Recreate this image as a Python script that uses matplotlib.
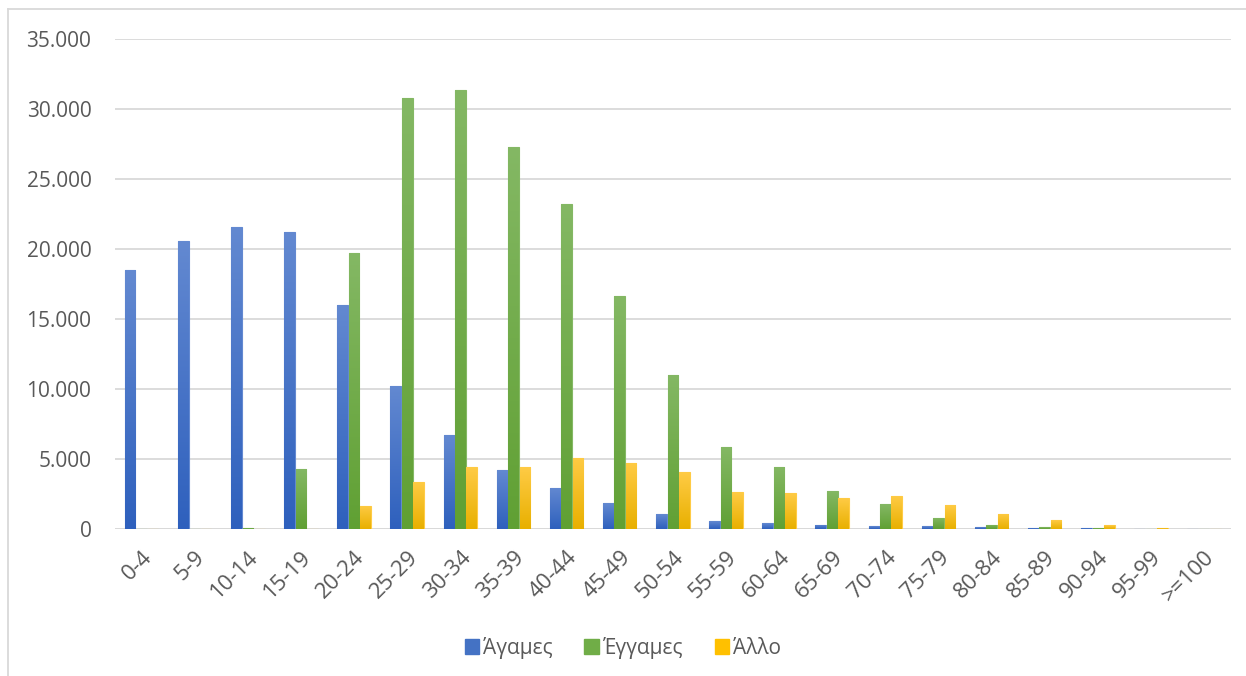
import numpy as np
import matplotlib.pyplot as plt
from matplotlib.colors import LinearSegmentedColormap
from matplotlib.patches import Patch
from matplotlib.lines import Line2D
from matplotlib.ticker import FuncFormatter

plt.rcParams['font.family'] = ['Open Sans', 'DejaVu Sans']

ilikies = ['0-4', '5-9', '10-14', '15-19', '20-24', '25-29', '30-34', '35-39',
           '40-44', '45-49', '50-54', '55-59', '60-64', '65-69', '70-74', '75-79',
           '80-84', '85-89', '90-94', '95-99', '>=100']
agames = [18500, 20570, 21550, 21240, 16020, 10240, 6710, 4180, 2940, 1820, 1040,
          570, 400, 290, 210, 190, 130, 60, 40, 30, 25]
eggames = [0, 0, 60, 4310, 19710, 30790, 31340, 27270, 23200, 16630, 11010,
           5830, 4430, 2710, 1760, 800, 300, 130, 50, 30, 25]
allo = [0, 0, 30, 20, 1670, 3360, 4400, 4410, 5090, 4730, 4040,
        2640, 2550, 2190, 2330, 1700, 1090, 610, 250, 60, 30]

seires = [
    ('Άγαμες', agames, '#6389D1', '#2E60BD', '#4472C4'),
    ('Έγγαμες', eggames, '#84B864', '#60A033', '#70AD47'),
    ('Άλλο', allo, '#FFCB45', '#E8B000', '#FFC000'),
]

fig = plt.figure(figsize=(12.46, 6.76), dpi=100)
ax = fig.add_axes([0.0923, 0.2175, 0.8954, 0.7248])

x = np.arange(len(ilikies))
platos = 0.2
metatopisi = 0.215
grad = np.linspace(1, 0, 256).reshape(-1, 1)

handles = []
for i, (onoma, times, panw, katw, xrwma) in enumerate(seires):
    cmap = LinearSegmentedColormap.from_list(onoma, [katw, panw])
    bars = ax.bar(x + (i - 1) * metatopisi, times, width=platos, color=xrwma,
                  edgecolor=panw, linewidth=0.8, zorder=2)
    for b in bars:
        h = b.get_height()
        if h <= 0:
            continue
        im = ax.imshow(grad, cmap=cmap, aspect='auto', zorder=2.5,
                       extent=[b.get_x(), b.get_x() + b.get_width(), 0, h])
        im.set_clip_path(b)
    handles.append(Patch(facecolor=xrwma, edgecolor=xrwma))

ax.set_xlim(-0.5, len(ilikies) - 0.5)
ax.set_ylim(0, 35000)
ax.set_yticks(np.arange(0, 35001, 5000))
ax.yaxis.set_major_formatter(FuncFormatter(lambda v, p: f'{int(v):,}'.replace(',', '.')))
ax.grid(axis='y', color='#D9D9D9', linewidth=1.3, zorder=0)
ax.set_axisbelow(True)
for s in ax.spines.values():
    s.set_visible(False)
ax.axhline(0, color='#D9D9D9', linewidth=1.3, zorder=1)

ax.set_xticks(x)
ax.set_xticklabels(ilikies, rotation=45, ha='right', rotation_mode='anchor')
ax.tick_params(axis='both', length=0, labelcolor='#595959')
ax.tick_params(axis='y', pad=17, labelsize=15)
ax.tick_params(axis='x', pad=13, labelsize=16)

fig.legend(handles, [s[0] for s in seires], loc='center', bbox_to_anchor=(0.5, 0.042),
           ncol=3, frameon=False, fontsize=15, labelcolor='#595959',
           handlelength=0.7, handleheight=0.7, handletextpad=0.2, columnspacing=1.5)

# plaisio gyro apo to grafima
fig.add_artist(Line2D([0.0068, 0.0068], [0, 0.986], color='#D9D9D9', linewidth=1.3))
fig.add_artist(Line2D([0.0068, 1], [0.986, 0.986], color='#D9D9D9', linewidth=1.3))

fig.savefig('out.png', dpi=100)
